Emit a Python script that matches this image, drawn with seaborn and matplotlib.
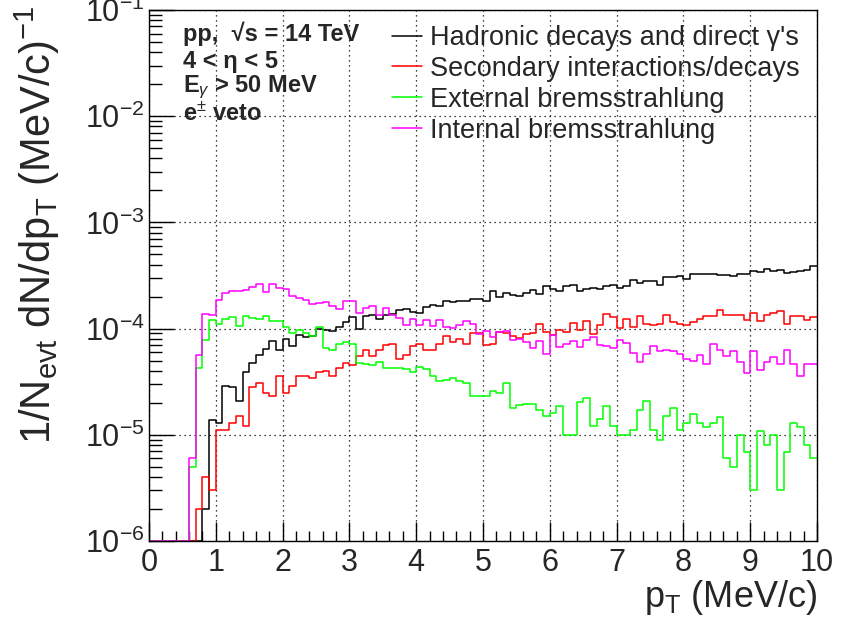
import numpy as np
import pandas as pd
import matplotlib
matplotlib.use("Agg")
import matplotlib.pyplot as plt
import seaborn as sns
from matplotlib.lines import Line2D
from matplotlib.ticker import LogLocator, MultipleLocator, NullFormatter

# p_T binning: 100 bins of 0.1 MeV/c between 0 and 10
n_bins = 100
pt_range = (0.0, 10.0)
pt_centers = np.arange(n_bins) * 0.1 + 0.05

# 1/N_evt dN/dp_T per bin, in units of 1e-4 (MeV/c)^-1
hadronic = [
    0, 0, 0, 0, 0, 0, 0, 0, 0.020, 0.139,
    0.13, 0.29, 0.28, 0.21, 0.39, 0.475, 0.57, 0.64, 0.76, 0.63,
    0.80, 0.69, 0.87, 0.84, 0.85, 1.0, 0.96, 0.94, 1.04, 1.16,
    1.29, 1.0, 1.31, 1.33, 1.24, 1.35, 1.38, 1.49, 1.52, 1.43,
    1.41, 1.60, 1.68, 1.63, 1.82, 1.78, 1.80, 1.82, 1.91, 1.91,
    1.82, 2.24, 1.98, 2.16, 2.06, 2.03, 2.18, 2.33, 2.13, 2.50,
    2.38, 2.24, 2.50, 2.56, 2.24, 2.38, 2.41, 2.36, 2.52, 2.60,
    2.41, 2.52, 2.85, 2.70, 2.78, 2.80, 2.56, 3.03, 3.03, 3.10,
    2.90, 3.24, 3.29, 3.29, 3.24, 3.22, 3.17, 3.12, 3.24, 3.29,
    3.46, 3.41, 3.66, 3.46, 3.53, 3.37, 3.41, 3.46, 3.53, 3.85,
]
secondary = [
    0, 0, 0, 0, 0, 0, 0, 0.020, 0.040, 0.030,
    0.11, 0.11, 0.13, 0.15, 0.12, 0.28, 0.31, 0.25, 0.23, 0.36,
    0.25, 0.29, 0.36, 0.36, 0.34, 0.39, 0.40, 0.36, 0.43, 0.47,
    0.45, 0.55, 0.63, 0.55, 0.63, 0.70, 0.71, 0.52, 0.56, 0.69,
    0.72, 0.63, 0.63, 0.72, 0.85, 0.74, 0.79, 0.72, 0.90, 0.90,
    0.70, 0.72, 0.92, 0.90, 0.85, 0.82, 0.88, 0.90, 1.11, 0.93,
    0.87, 0.98, 0.93, 1.13, 0.98, 1.18, 0.88, 1.07, 1.36, 1.29,
    1.02, 1.24, 1.04, 1.30, 1.10, 1.09, 1.10, 1.33, 1.15, 1.10,
    1.08, 1.15, 1.23, 1.30, 1.32, 1.50, 1.33, 1.33, 1.33, 1.21,
    1.40, 1.18, 1.35, 1.39, 1.47, 1.10, 1.31, 1.31, 1.21, 1.29,
]
external_brem = [
    0, 0, 0, 0, 0, 0, 0.050, 0.43, 0.78, 1.20,
    1.11, 1.22, 1.29, 1.06, 1.31, 1.27, 1.23, 1.32, 1.18, 1.18,
    1.04, 0.91, 0.96, 0.90, 0.85, 1.04, 0.65, 0.63, 0.71, 0.74,
    0.71, 0.47, 0.46, 0.45, 0.48, 0.43, 0.43, 0.43, 0.415, 0.39,
    0.435, 0.415, 0.36, 0.32, 0.33, 0.34, 0.32, 0.31, 0.23, 0.23,
    0.23, 0.26, 0.25, 0.31, 0.18, 0.19, 0.193, 0.197, 0.17, 0.15,
    0.16, 0.186, 0.10, 0.10, 0.204, 0.22, 0.12, 0.14, 0.186, 0.12,
    0.10, 0.10, 0.11, 0.17, 0.209, 0.112, 0.09, 0.15, 0.179, 0.11,
    0.13, 0.158, 0.13, 0.119, 0.13, 0.148, 0.061, 0.05, 0.10, 0.069,
    0.03, 0.109, 0.08, 0.10, 0.03, 0.069, 0.13, 0.119, 0.08, 0.06,
]
internal_brem = [
    0, 0, 0, 0, 0, 0, 0.060, 0.56, 1.38, 1.33,
    1.87, 2.16, 2.24, 2.26, 2.33, 2.46, 2.61, 2.21, 2.61, 2.41,
    2.38, 2.03, 1.96, 1.87, 1.72, 1.75, 1.78, 1.62, 1.52, 1.81,
    1.82, 1.41, 1.56, 1.63, 1.35, 1.56, 1.35, 1.26, 1.09, 1.22,
    1.09, 1.20, 1.06, 1.20, 1.04, 1.02, 1.07, 1.18, 1.11, 0.88,
    0.94, 0.83, 0.92, 0.94, 0.78, 0.80, 0.75, 0.66, 0.76, 0.58,
    0.87, 0.67, 0.71, 0.77, 0.67, 0.78, 0.83, 0.70, 0.68, 0.65,
    0.78, 0.73, 0.59, 0.49, 0.58, 0.68, 0.62, 0.63, 0.62, 0.58,
    0.52, 0.50, 0.56, 0.46, 0.71, 0.63, 0.55, 0.62, 0.49, 0.38,
    0.62, 0.41, 0.48, 0.54, 0.46, 0.63, 0.46, 0.36, 0.46, 0.46,
]

labels = [
    "Hadronic decays and direct \u03b3's",
    "Secondary interactions/decays",
    "External bremsstrahlung",
    "Internal bremsstrahlung",
]
colors = ["#000000", "#ff0000", "#00ff00", "#ff00ff"]
info_lines = [
    "pp,  \u221as = 14 TeV",
    "4 < \u03b7 < 5",
    "E$_{\u03b3}$ > 50 MeV",
    "e$^{\u00b1}$ veto",
]

y_min, y_max = 1e-6, 1e-1

sns.set_style("white")
plt.rcParams["font.family"] = ["Liberation Sans", "DejaVu Sans"]
plt.rcParams["mathtext.fontset"] = "custom"
plt.rcParams["mathtext.rm"] = "Liberation Sans"
plt.rcParams["mathtext.it"] = "Liberation Sans:italic"
plt.rcParams["mathtext.bf"] = "Liberation Sans:bold"

fig = plt.figure(figsize=(8.41, 6.26), dpi=100)
ax = fig.add_axes([149 / 841, 1 - 541 / 626, 668 / 841, 531 / 626])

series = [hadronic, secondary, external_brem, internal_brem]
for vals, col in zip(series, colors):
    # empty bins are drawn along the lower edge of the frame, as ROOT does
    df = pd.DataFrame({"pt": pt_centers,
                       "w": np.clip(np.asarray(vals) * 1e-4, y_min, None)})
    sns.histplot(data=df, x="pt", weights="w", bins=n_bins, binrange=pt_range,
                 element="step", fill=False, color=col, linewidth=1.1, ax=ax)

ax.set_yscale("log")
ax.set_xlim(0, 10)
ax.set_ylim(y_min, y_max)

ax.xaxis.set_major_locator(MultipleLocator(1))
ax.xaxis.set_minor_locator(MultipleLocator(0.2))
ax.yaxis.set_major_locator(LogLocator(base=10, numticks=10))
ax.yaxis.set_minor_locator(LogLocator(base=10, subs=np.arange(2, 10), numticks=30))
ax.yaxis.set_minor_formatter(NullFormatter())
ax.tick_params(which="both", direction="in", bottom=True, left=True,
               top=False, right=False, labelsize=22, width=1, color="black")
ax.tick_params(axis="x", which="major", length=14, pad=5)
ax.tick_params(axis="x", which="minor", length=7)
ax.tick_params(axis="y", which="major", length=18, pad=3)
ax.tick_params(axis="y", which="minor", length=9)

ax.grid(which="major", color="black", linestyle=(0, (1, 3)), linewidth=0.9)
ax.set_axisbelow(True)
for sp in ax.spines.values():
    sp.set_color("black")
    sp.set_linewidth(1.0)

ax.set_xlabel(r"p$_{\mathrm{T}}$ (MeV/c)", fontsize=26, ha="right", va="top")
ax.xaxis.set_label_coords(1.0, -0.07)
ax.set_ylabel(r"1/N$_{\mathrm{evt}}$ dN/dp$_{\mathrm{T}}$ (MeV/c)$^{\mathrm{-1}}$",
              fontsize=30, ha="right")
ax.yaxis.set_label_coords(-0.13, 1.008)

handles = [Line2D([], [], color=c, linewidth=1.1) for c in colors]
ax.legend(handles, labels, loc="upper left", frameon=False, fontsize=19.5,
          bbox_to_anchor=(392 / 841, 1 - 25 / 626), bbox_transform=fig.transFigure,
          borderpad=0, borderaxespad=0, handlelength=1.1, handletextpad=0.3,
          labelspacing=0.18)

info_baselines = [41.5, 68, 92.5, 120.5]
for txt, yy in zip(info_lines, info_baselines):
    fig.text(183 / 841, 1 - yy / 626, txt, fontsize=17, fontweight="bold",
             ha="left", va="baseline")

fig.savefig("out.png", dpi=100)
